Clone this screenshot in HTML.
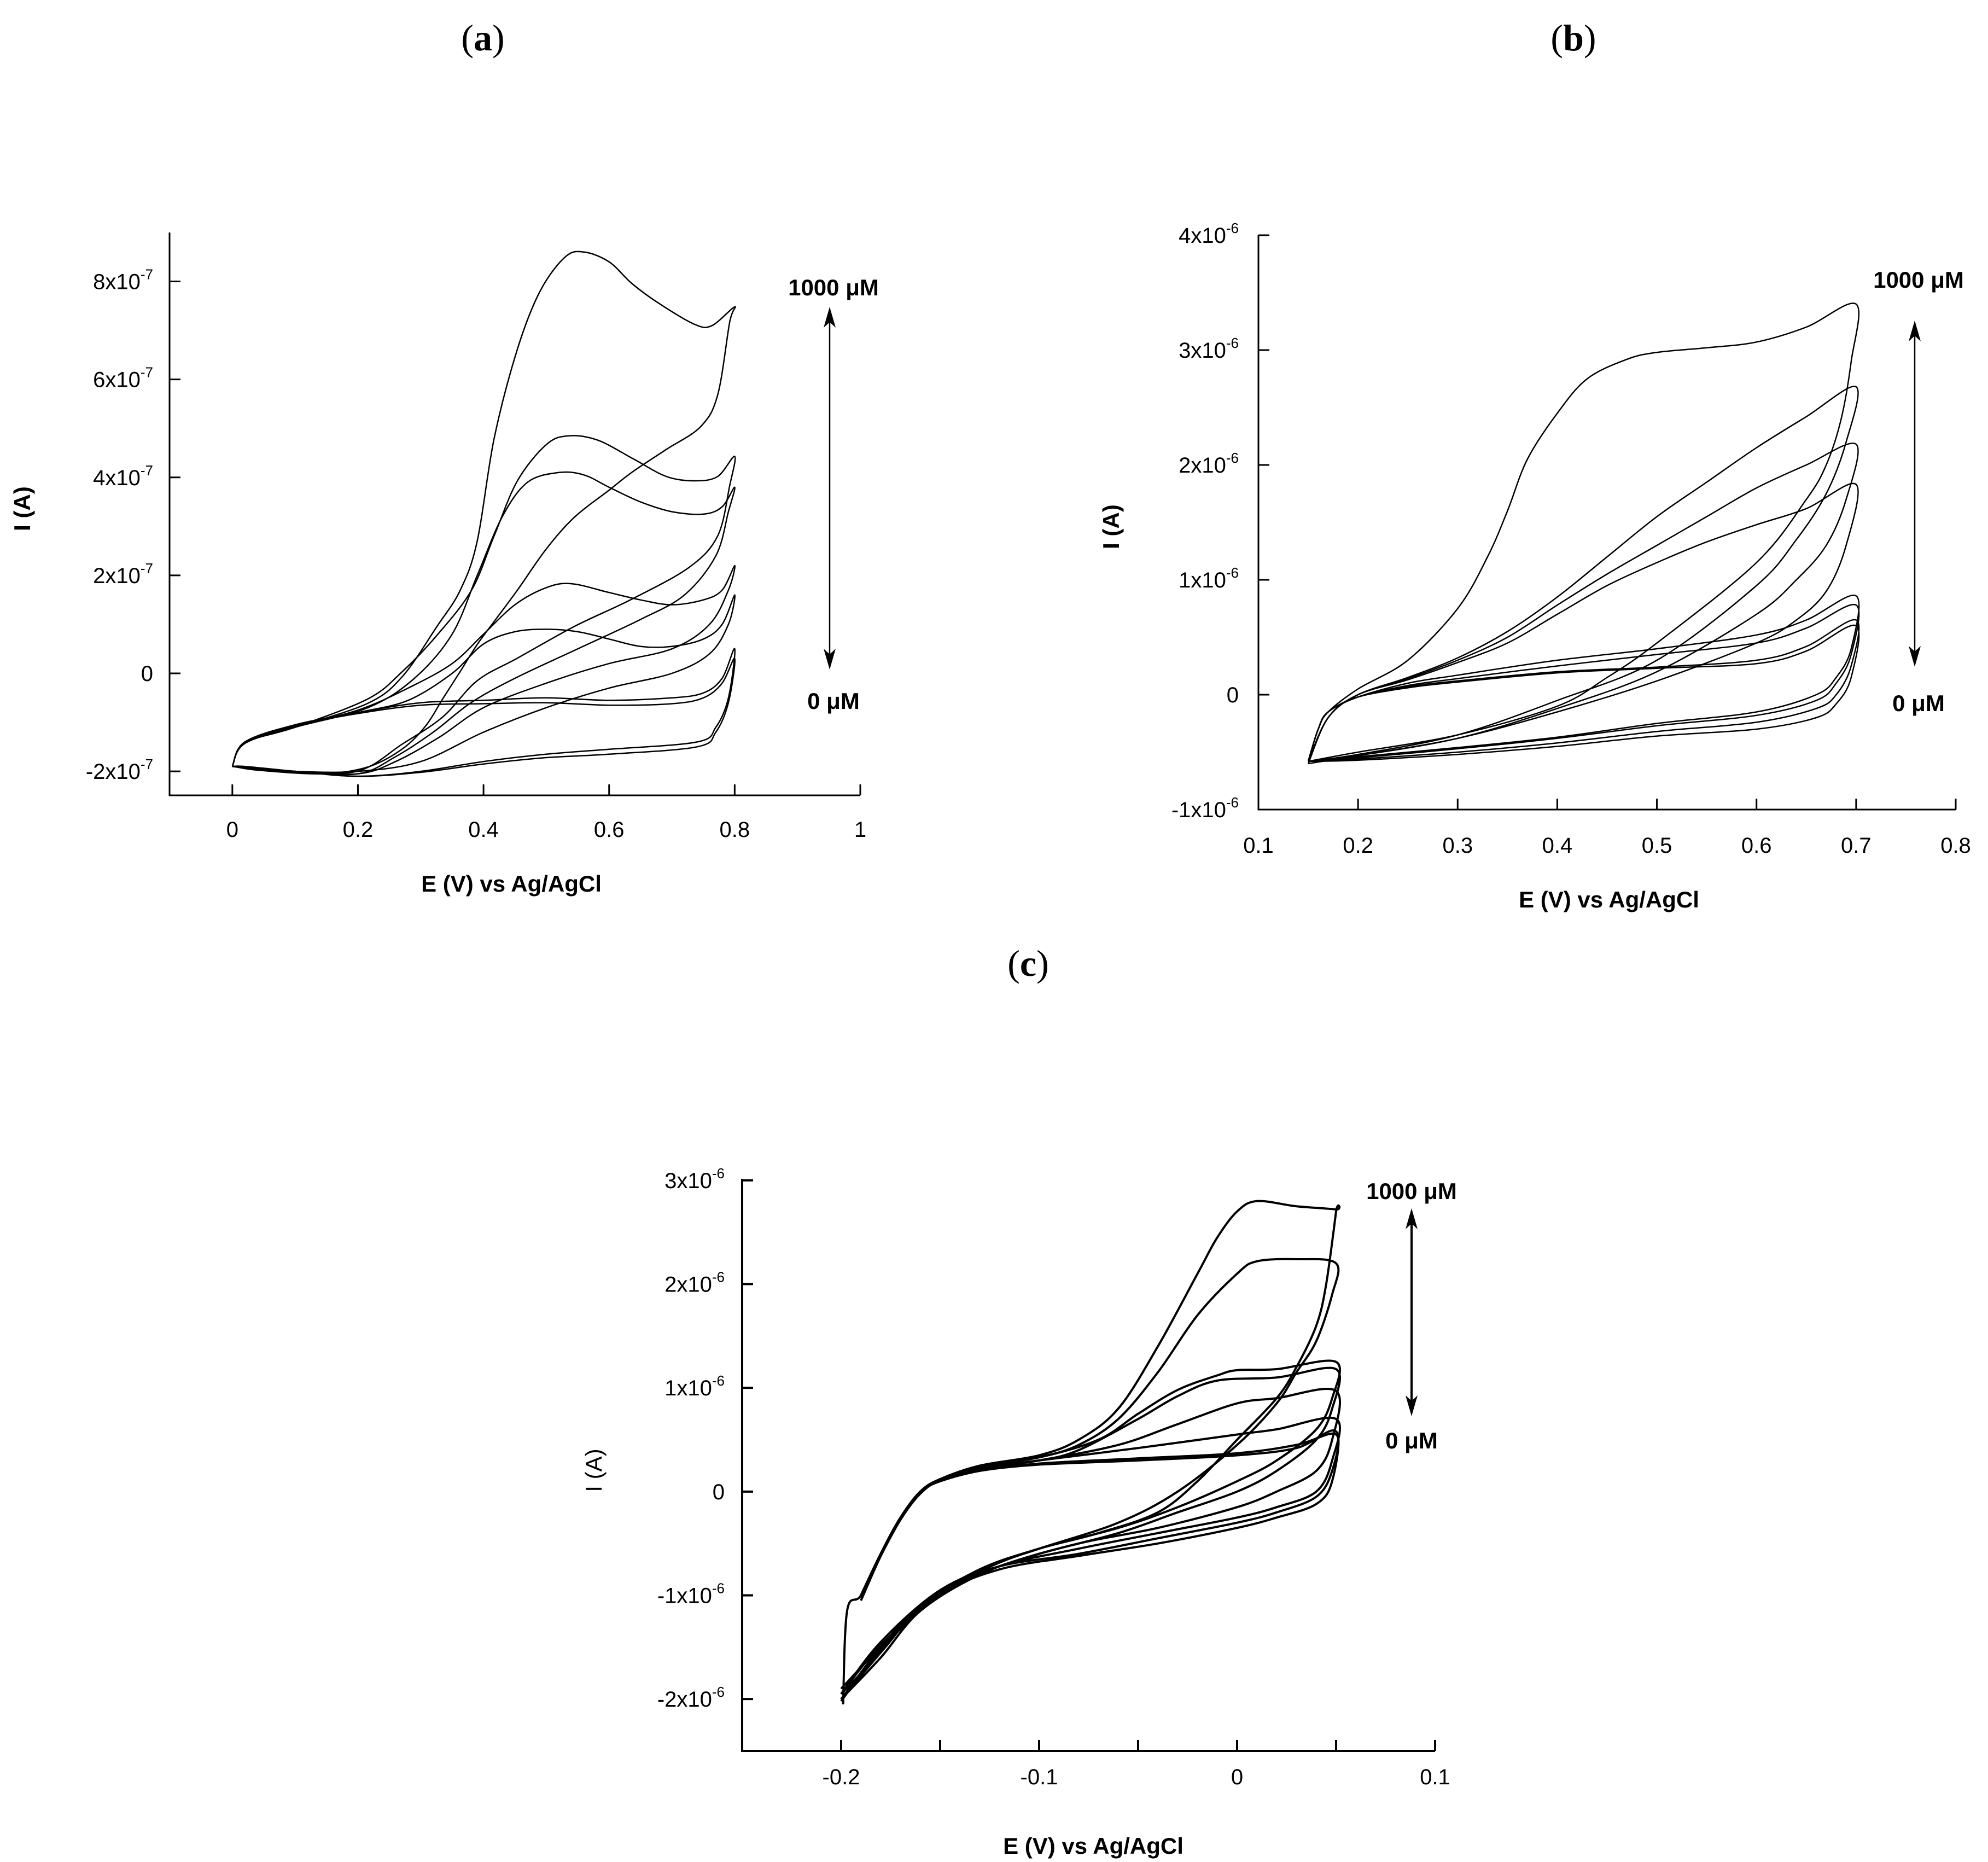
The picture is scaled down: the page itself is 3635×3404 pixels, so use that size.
<!DOCTYPE html>
<html><head><meta charset="utf-8"><style>
html,body{margin:0;padding:0;background:#fff}
svg{display:block}
text{font-family:"Liberation Sans Narrow","Liberation Sans",sans-serif;fill:#000}
.lab{font-family:"Liberation Serif",serif;font-size:68px}
</style></head><body>
<svg id="fig" width="3635" height="3404" viewBox="0 0 3635 3404" xmlns="http://www.w3.org/2000/svg">
<text class="lab" x="883" y="92" text-anchor="middle">(<tspan font-weight="bold">a</tspan>)</text>
<text class="lab" x="2877" y="92" text-anchor="middle">(<tspan font-weight="bold">b</tspan>)</text>
<text class="lab" x="1880" y="1784" text-anchor="middle">(<tspan font-weight="bold">c</tspan>)</text>
</svg>
<script>
// ---------- Panel (a) data ----------
const aXTicks=[0,0.2,0.4,0.6,0.8,1];
const aXLabels=["0","0.2","0.4","0.6","0.8","1"];
const aYTicks=[-2e-7,0,2e-7,4e-7,6e-7,8e-7];
const aYMant=["-2x10","0","2x10","4x10","6x10","8x10"];
const aYExp=["-7","","-7","-7","-7","-7"];
const aCurve1=[[0,-1.9e-7],[0.02,-1.4e-7],[0.1,-1.1e-7],[0.216,-0.61e-7],[0.271,-0.06e-7],[0.326,0.96e-7],[0.363,1.7e-7],[0.39,2.7e-7],[0.417,4.8e-7],[0.454,6.62e-7],[0.49,7.8e-7],[0.53,8.5e-7],[0.56,8.6e-7],[0.6,8.4e-7],[0.637,7.95e-7],[0.682,7.53e-7],[0.737,7.12e-7],[0.764,7.1e-7],[0.8,7.48e-7],[0.792,7.17e-7],[0.773,5.69e-7],[0.746,5.04e-7],[0.691,4.57e-7],[0.637,4.11e-7],[0.6,3.74e-7],[0.545,3.19e-7],[0.5,2.54e-7],[0.454,1.7e-7],[0.417,1.06e-7],[0.39,0.59e-7],[0.363,0.04e-7],[0.335,-0.52e-7],[0.308,-1.07e-7],[0.271,-1.54e-7],[0.216,-1.91e-7],[0.143,-2.05e-7],[0.043,-1.98e-7],[0.006,-1.91e-7],[0,-1.9e-7]];
const aCurve2=[[0,-1.9e-7],[0.02,-1.42e-7],[0.1,-1.1e-7],[0.216,-0.52e-7],[0.271,0.04e-7],[0.326,0.78e-7],[0.381,1.7e-7],[0.417,2.81e-7],[0.454,3.93e-7],[0.5,4.67e-7],[0.536,4.85e-7],[0.582,4.76e-7],[0.637,4.39e-7],[0.691,4.02e-7],[0.737,3.93e-7],[0.773,4.02e-7],[0.8,4.43e-7],[0.792,3.83e-7],[0.773,2.81e-7],[0.728,2.17e-7],[0.637,1.52e-7],[0.545,0.96e-7],[0.454,0.31e-7],[0.39,-0.15e-7],[0.335,-0.89e-7],[0.271,-1.44e-7],[0.198,-2.0e-7],[0.089,-2.0e-7],[0,-1.9e-7]];
const aCurve3=[[0,-1.9e-7],[0.02,-1.43e-7],[0.1,-1.1e-7],[0.216,-0.7e-7],[0.29,-0.1e-7],[0.35,0.8e-7],[0.39,2.0e-7],[0.43,3.2e-7],[0.47,3.9e-7],[0.52,4.1e-7],[0.56,4.05e-7],[0.6,3.8e-7],[0.65,3.5e-7],[0.7,3.3e-7],[0.75,3.25e-7],[0.78,3.4e-7],[0.8,3.8e-7],[0.79,3.3e-7],[0.77,2.4e-7],[0.72,1.6e-7],[0.65,1.1e-7],[0.55,0.5e-7],[0.45,-0.1e-7],[0.38,-0.6e-7],[0.32,-1.2e-7],[0.26,-1.7e-7],[0.2,-2.05e-7],[0.1,-2.0e-7],[0,-1.9e-7]];
const aCurve4=[[0,-1.9e-7],[0.02,-1.42e-7],[0.1,-1.08e-7],[0.2,-0.75e-7],[0.28,-0.3e-7],[0.35,0.2e-7],[0.4,0.8e-7],[0.45,1.4e-7],[0.5,1.75e-7],[0.54,1.83e-7],[0.6,1.65e-7],[0.65,1.5e-7],[0.7,1.4e-7],[0.75,1.5e-7],[0.78,1.7e-7],[0.8,2.2e-7],[0.79,1.7e-7],[0.76,1.0e-7],[0.7,0.5e-7],[0.6,0.2e-7],[0.5,-0.2e-7],[0.4,-0.7e-7],[0.33,-1.3e-7],[0.26,-1.8e-7],[0.2,-2.05e-7],[0.1,-2.0e-7],[0,-1.9e-7]];
const aCurve5=[[0,-1.9e-7],[0.02,-1.4e-7],[0.1,-1.07e-7],[0.2,-0.8e-7],[0.28,-0.55e-7],[0.35,0.0],[0.4,0.6e-7],[0.45,0.85e-7],[0.5,0.9e-7],[0.55,0.85e-7],[0.6,0.7e-7],[0.65,0.55e-7],[0.7,0.55e-7],[0.75,0.7e-7],[0.78,1.0e-7],[0.8,1.6e-7],[0.79,1.0e-7],[0.76,0.4e-7],[0.7,0.0],[0.6,-0.3e-7],[0.5,-0.7e-7],[0.4,-1.2e-7],[0.3,-1.8e-7],[0.2,-2.0e-7],[0.1,-2.0e-7],[0,-1.9e-7]];
const aCurve6=[[0,-1.9e-7],[0.02,-1.4e-7],[0.1,-1.05e-7],[0.2,-0.8e-7],[0.3,-0.6e-7],[0.4,-0.55e-7],[0.5,-0.5e-7],[0.6,-0.55e-7],[0.7,-0.5e-7],[0.75,-0.4e-7],[0.78,-0.1e-7],[0.8,0.5e-7],[0.79,-0.5e-7],[0.77,-1.1e-7],[0.74,-1.4e-7],[0.6,-1.55e-7],[0.5,-1.65e-7],[0.4,-1.8e-7],[0.3,-2.0e-7],[0.2,-2.1e-7],[0.1,-2.0e-7],[0.02,-1.9e-7],[0,-1.9e-7]];
const aCurve7=[[0,-1.9e-7],[0.02,-1.42e-7],[0.1,-1.07e-7],[0.2,-0.82e-7],[0.3,-0.65e-7],[0.4,-0.62e-7],[0.5,-0.6e-7],[0.6,-0.65e-7],[0.7,-0.62e-7],[0.75,-0.5e-7],[0.78,-0.2e-7],[0.8,0.3e-7],[0.79,-0.6e-7],[0.77,-1.2e-7],[0.74,-1.5e-7],[0.6,-1.65e-7],[0.5,-1.72e-7],[0.4,-1.85e-7],[0.3,-2.02e-7],[0.2,-2.1e-7],[0.1,-2.0e-7],[0.02,-1.9e-7],[0,-1.9e-7]];
const aCurves=[aCurve1,aCurve2,aCurve3,aCurve4,aCurve5,aCurve6,aCurve7];

// ---------- Panel (b) data ----------
const bXTicks=[0.1,0.2,0.3,0.4,0.5,0.6,0.7,0.8];
const bXLabels=["0.1","0.2","0.3","0.4","0.5","0.6","0.7","0.8"];
const bYTicks=[-1e-6,0,1e-6,2e-6,3e-6,4e-6];
const bYMant=["-1x10","0","1x10","2x10","3x10","4x10"];
const bYExp=["-6","","-6","-6","-6","-6"];
const bCurve1=[[0.15,-0.58e-6],[0.16,-0.3e-6],[0.17,-0.15e-6],[0.2,0.05e-6],[0.25,0.3e-6],[0.3,0.75e-6],[0.33,1.2e-6],[0.35,1.6e-6],[0.37,2.05e-6],[0.4,2.45e-6],[0.43,2.75e-6],[0.47,2.92e-6],[0.5,2.98e-6],[0.55,3.02e-6],[0.6,3.07e-6],[0.65,3.2e-6],[0.7,3.4e-6],[0.695,2.9e-6],[0.685,2.4e-6],[0.67,2.0e-6],[0.65,1.7e-6],[0.6,1.15e-6],[0.5,0.45e-6],[0.45,0.15e-6],[0.4,-0.1e-6],[0.3,-0.35e-6],[0.2,-0.5e-6],[0.15,-0.58e-6]];
const bCurve2=[[0.15,-0.58e-6],[0.17,-0.2e-6],[0.2,0.0],[0.25,0.15e-6],[0.3,0.32e-6],[0.35,0.55e-6],[0.4,0.85e-6],[0.45,1.2e-6],[0.5,1.55e-6],[0.55,1.85e-6],[0.6,2.15e-6],[0.65,2.42e-6],[0.7,2.68e-6],[0.69,2.2e-6],[0.67,1.75e-6],[0.64,1.35e-6],[0.6,0.95e-6],[0.5,0.3e-6],[0.4,-0.05e-6],[0.3,-0.35e-6],[0.2,-0.52e-6],[0.15,-0.58e-6]];
const bCurve3=[[0.15,-0.58e-6],[0.17,-0.2e-6],[0.2,0.0],[0.25,0.14e-6],[0.3,0.3e-6],[0.35,0.5e-6],[0.4,0.78e-6],[0.45,1.05e-6],[0.5,1.3e-6],[0.55,1.55e-6],[0.6,1.8e-6],[0.65,2.0e-6],[0.7,2.18e-6],[0.69,1.7e-6],[0.67,1.3e-6],[0.64,1.0e-6],[0.6,0.7e-6],[0.5,0.2e-6],[0.4,-0.12e-6],[0.3,-0.38e-6],[0.2,-0.53e-6],[0.15,-0.58e-6]];
const bCurve4=[[0.15,-0.6e-6],[0.17,-0.2e-6],[0.2,0.0],[0.25,0.13e-6],[0.3,0.28e-6],[0.35,0.45e-6],[0.4,0.7e-6],[0.45,0.95e-6],[0.5,1.15e-6],[0.55,1.33e-6],[0.6,1.48e-6],[0.65,1.62e-6],[0.7,1.83e-6],[0.69,1.3e-6],[0.67,0.9e-6],[0.64,0.65e-6],[0.6,0.45e-6],[0.5,0.12e-6],[0.4,-0.15e-6],[0.3,-0.38e-6],[0.2,-0.53e-6],[0.15,-0.6e-6]];
const bCurve5=[[0.15,-0.58e-6],[0.16,-0.3e-6],[0.17,-0.15e-6],[0.2,-0.02e-6],[0.25,0.1e-6],[0.3,0.17e-6],[0.4,0.3e-6],[0.5,0.4e-6],[0.6,0.52e-6],[0.65,0.65e-6],[0.7,0.86e-6],[0.695,0.4e-6],[0.68,0.15e-6],[0.66,0.0],[0.6,-0.15e-6],[0.5,-0.25e-6],[0.4,-0.37e-6],[0.3,-0.46e-6],[0.2,-0.54e-6],[0.15,-0.58e-6]];
const bCurve6=[[0.15,-0.58e-6],[0.16,-0.3e-6],[0.17,-0.15e-6],[0.2,-0.02e-6],[0.25,0.08e-6],[0.3,0.14e-6],[0.4,0.25e-6],[0.5,0.35e-6],[0.6,0.45e-6],[0.65,0.58e-6],[0.7,0.78e-6],[0.695,0.35e-6],[0.68,0.1e-6],[0.66,-0.05e-6],[0.6,-0.18e-6],[0.5,-0.27e-6],[0.4,-0.38e-6],[0.3,-0.47e-6],[0.2,-0.55e-6],[0.15,-0.58e-6]];
const bCurve7=[[0.15,-0.58e-6],[0.16,-0.3e-6],[0.17,-0.15e-6],[0.2,-0.02e-6],[0.25,0.07e-6],[0.3,0.12e-6],[0.4,0.2e-6],[0.5,0.24e-6],[0.6,0.3e-6],[0.65,0.42e-6],[0.7,0.65e-6],[0.695,0.25e-6],[0.68,0.0],[0.66,-0.12e-6],[0.6,-0.24e-6],[0.5,-0.32e-6],[0.4,-0.42e-6],[0.3,-0.5e-6],[0.2,-0.56e-6],[0.15,-0.58e-6]];
const bCurve8=[[0.15,-0.58e-6],[0.16,-0.3e-6],[0.17,-0.15e-6],[0.2,-0.02e-6],[0.25,0.06e-6],[0.3,0.11e-6],[0.4,0.19e-6],[0.5,0.23e-6],[0.6,0.27e-6],[0.65,0.38e-6],[0.7,0.6e-6],[0.695,0.15e-6],[0.68,-0.08e-6],[0.66,-0.2e-6],[0.6,-0.3e-6],[0.5,-0.36e-6],[0.4,-0.45e-6],[0.3,-0.52e-6],[0.2,-0.57e-6],[0.15,-0.58e-6]];
const bCurves=[bCurve1,bCurve2,bCurve3,bCurve4,bCurve5,bCurve6,bCurve7,bCurve8];

// ---------- Panel (c) data ----------
const cXTicks=[-0.25,-0.2,-0.15,-0.1,-0.05,0,0.05,0.1];
const cXLabels=["","-0.2","","-0.1","","0","","0.1"];
const cYTicks=[-2e-6,-1e-6,0,1e-6,2e-6,3e-6];
const cYMant=["-2x10","-1x10","0","1x10","2x10","3x10"];
const cYExp=["-6","-6","","-6","-6","-6"];
const cCurve1=[[-0.199,-2.05e-6],[-0.197,-1.15e-6],[-0.19,-1.0e-6],[-0.18,-0.6e-6],[-0.17,-0.25e-6],[-0.16,0.0],[-0.15,0.12e-6],[-0.13,0.25e-6],[-0.1,0.35e-6],[-0.08,0.5e-6],[-0.06,0.8e-6],[-0.04,1.4e-6],[-0.02,2.1e-6],[-0.01,2.45e-6],[0.0,2.7e-6],[0.01,2.8e-6],[0.03,2.75e-6],[0.05,2.72e-6],[0.05,2.7e-6],[0.045,2.0e-6],[0.04,1.6e-6],[0.03,1.2e-6],[0.02,0.9e-6],[0.0,0.5e-6],[-0.02,0.1e-6],[-0.04,-0.2e-6],[-0.07,-0.4e-6],[-0.1,-0.55e-6],[-0.13,-0.75e-6],[-0.16,-1.1e-6],[-0.18,-1.5e-6],[-0.2,-2.0e-6]];
const cCurve2=[[-0.19,-1.05e-6],[-0.18,-0.62e-6],[-0.17,-0.27e-6],[-0.16,-0.02e-6],[-0.15,0.11e-6],[-0.13,0.24e-6],[-0.1,0.33e-6],[-0.08,0.45e-6],[-0.06,0.7e-6],[-0.04,1.15e-6],[-0.02,1.7e-6],[0.0,2.1e-6],[0.01,2.22e-6],[0.03,2.24e-6],[0.05,2.2e-6],[0.048,1.9e-6],[0.04,1.45e-6],[0.03,1.15e-6],[0.02,0.85e-6],[0.0,0.45e-6],[-0.03,0.0],[-0.06,-0.3e-6],[-0.1,-0.55e-6],[-0.13,-0.75e-6],[-0.16,-1.1e-6],[-0.18,-1.55e-6],[-0.2,-2.0e-6]];
const cCurve3=[[-0.19,-1.0e-6],[-0.18,-0.6e-6],[-0.17,-0.25e-6],[-0.16,0.0],[-0.15,0.12e-6],[-0.13,0.24e-6],[-0.1,0.33e-6],[-0.07,0.5e-6],[-0.05,0.75e-6],[-0.03,0.98e-6],[-0.01,1.12e-6],[0.0,1.17e-6],[0.02,1.18e-6],[0.05,1.25e-6],[0.048,0.9e-6],[0.04,0.6e-6],[0.02,0.3e-6],[0.0,0.1e-6],[-0.03,-0.15e-6],[-0.06,-0.35e-6],[-0.1,-0.55e-6],[-0.13,-0.77e-6],[-0.16,-1.12e-6],[-0.18,-1.55e-6],[-0.2,-1.95e-6]];
const cCurve4=[[-0.19,-1.05e-6],[-0.18,-0.62e-6],[-0.17,-0.26e-6],[-0.16,0.0],[-0.15,0.11e-6],[-0.13,0.23e-6],[-0.1,0.3e-6],[-0.08,0.4e-6],[-0.05,0.7e-6],[-0.03,0.92e-6],[-0.01,1.07e-6],[0.02,1.1e-6],[0.05,1.18e-6],[0.048,0.8e-6],[0.04,0.5e-6],[0.02,0.2e-6],[0.0,0.0],[-0.03,-0.2e-6],[-0.06,-0.4e-6],[-0.1,-0.6e-6],[-0.13,-0.8e-6],[-0.16,-1.15e-6],[-0.18,-1.6e-6],[-0.2,-2.0e-6]];
const cCurve5=[[-0.19,-1.0e-6],[-0.18,-0.6e-6],[-0.17,-0.25e-6],[-0.16,0.0],[-0.15,0.11e-6],[-0.13,0.22e-6],[-0.1,0.3e-6],[-0.06,0.45e-6],[-0.03,0.65e-6],[0.0,0.85e-6],[0.02,0.9e-6],[0.05,0.97e-6],[0.048,0.5e-6],[0.04,0.2e-6],[0.02,0.0],[0.0,-0.15e-6],[-0.04,-0.35e-6],[-0.08,-0.5e-6],[-0.12,-0.72e-6],[-0.15,-0.98e-6],[-0.18,-1.5e-6],[-0.2,-1.9e-6]];
const cCurve6=[[-0.19,-1.0e-6],[-0.18,-0.6e-6],[-0.17,-0.25e-6],[-0.16,0.0],[-0.15,0.11e-6],[-0.13,0.22e-6],[-0.1,0.3e-6],[-0.05,0.42e-6],[0.0,0.55e-6],[0.02,0.6e-6],[0.05,0.7e-6],[0.048,0.3e-6],[0.04,0.0],[0.02,-0.15e-6],[0.0,-0.25e-6],[-0.04,-0.4e-6],[-0.08,-0.55e-6],[-0.12,-0.72e-6],[-0.15,-0.98e-6],[-0.18,-1.48e-6],[-0.2,-1.95e-6]];
const cCurve7=[[-0.19,-1.0e-6],[-0.18,-0.6e-6],[-0.17,-0.25e-6],[-0.16,0.0],[-0.15,0.1e-6],[-0.13,0.2e-6],[-0.1,0.27e-6],[-0.05,0.32e-6],[0.0,0.37e-6],[0.03,0.45e-6],[0.05,0.55e-6],[0.048,0.2e-6],[0.04,-0.05e-6],[0.02,-0.2e-6],[0.0,-0.3e-6],[-0.04,-0.45e-6],[-0.08,-0.6e-6],[-0.12,-0.72e-6],[-0.15,-0.95e-6],[-0.18,-1.45e-6],[-0.2,-1.95e-6]];
const cCurve8=[[-0.19,-1.02e-6],[-0.18,-0.62e-6],[-0.17,-0.27e-6],[-0.16,-0.01e-6],[-0.15,0.1e-6],[-0.13,0.2e-6],[-0.1,0.26e-6],[-0.05,0.3e-6],[0.0,0.35e-6],[0.03,0.42e-6],[0.05,0.58e-6],[0.048,0.1e-6],[0.04,-0.12e-6],[0.02,-0.25e-6],[0.0,-0.35e-6],[-0.04,-0.5e-6],[-0.08,-0.62e-6],[-0.12,-0.75e-6],[-0.15,-1.0e-6],[-0.18,-1.52e-6],[-0.2,-2.02e-6]];
const cCurves=[cCurve1,cCurve2,cCurve3,cCurve4,cCurve5,cCurve6,cCurve7,cCurve8];

const NS="http://www.w3.org/2000/svg";
const fig=document.getElementById('fig');
function mk(tag,attrs,parent){const e=document.createElementNS(NS,tag);for(const k in attrs)e.setAttribute(k,attrs[k]);(parent||fig).appendChild(e);return e;}

function drawPanel(p){
  const g=mk('g',{});
  
  
  const sx=v=>p.px0+(v-p.xmin)/(p.xmax-p.xmin)*(p.px1-p.px0);
  const sy=v=>p.py1-(v-p.ymin)/(p.ymax-p.ymin)*(p.py1-p.py0);
  const axis=mk('path',{d:`M${p.px0} ${p.py0} V${p.py1} H${p.px1}`,stroke:'#000','stroke-width':p.aw,fill:'none'},g);
  
  
  p.xt.forEach((v,i)=>{
    const x=sx(v);
    const t=mk('line',{x1:x,x2:x,y1:p.py1,y2:p.py1-20,stroke:'#000','stroke-width':p.aw},g);
    
    
    if(p.xl[i]!==""){
      const tx=mk('text',{x:x,y:p.xly,'text-anchor':'middle','font-size':40},g);
      tx.textContent=p.xl[i];
      
      
    }
  });
  p.yt.forEach((v,i)=>{
    const y=sy(v);
    const t=mk('line',{x1:p.px0,x2:p.px0+20,y1:y,y2:y,stroke:'#000','stroke-width':p.aw},g);
    
    
    const tx=mk('text',{x:p.ylx,y:y+14,'text-anchor':'end','font-size':40},g);
    
    
    if(p.ye[i]===""){tx.textContent=p.ym[i];}
    else{
      const a=mk('tspan',{},tx);a.textContent=p.ym[i];
      const b=mk('tspan',{dy:-18,'font-size':26},tx);b.textContent=p.ye[i];
    }
  });
  p.curves.forEach((c,ci)=>{
    const pts=c.map(q=>[sx(q[0]),sy(q[1])]);
    let d=`M${pts[0][0].toFixed(1)} ${pts[0][1].toFixed(1)}`;
    for(let i=0;i<pts.length-1;i++){
      const p0=pts[Math.max(0,i-1)],p1=pts[i],p2=pts[i+1],p3=pts[Math.min(pts.length-1,i+2)];
      const c1=[p1[0]+(p2[0]-p0[0])/6,p1[1]+(p2[1]-p0[1])/6];
      const c2=[p2[0]-(p3[0]-p1[0])/6,p2[1]-(p3[1]-p1[1])/6];
      d+=` C${c1[0].toFixed(1)} ${c1[1].toFixed(1)} ${c2[0].toFixed(1)} ${c2[1].toFixed(1)} ${p2[0].toFixed(1)} ${p2[1].toFixed(1)}`;
    }
    const e=mk('path',{d:d,stroke:'#000','stroke-width':p.sw,fill:'none','stroke-linejoin':'round'},g);
    
    
  });
  const xt=mk('text',{x:p.xtx,y:p.xty,'text-anchor':'middle','font-size':42,'font-weight':'bold','font-family':'Liberation Sans, sans-serif'},g);
  xt.textContent='E (V) vs Ag/AgCl';
  
  
  const yt=mk('text',{x:p.ytx,y:p.yty,'text-anchor':'middle','font-size':42,'font-weight':p.ybold?'bold':'normal','font-family':'Liberation Sans, sans-serif',transform:`rotate(-90 ${p.ytx} ${p.yty})`},g);
  yt.textContent='I (A)';
  
  
  const hi=mk('text',{x:p.ax,y:p.hiY,'text-anchor':'middle','font-size':42,'font-weight':'bold','font-family':p.serif?'Liberation Serif, serif':'Liberation Sans, sans-serif'},g);
  hi.textContent='1000 μM';
  
  
  const lo=mk('text',{x:p.ax,y:p.loY,'text-anchor':'middle','font-size':42,'font-weight':'bold','font-family':p.serif?'Liberation Serif, serif':'Liberation Sans, sans-serif'},g);
  lo.textContent='0 μM';
  
  
  const ar=mk('g',{},g);
  
  
  const x=p.arX;
  mk('line',{x1:x,x2:x,y1:p.arY0+25,y2:p.arY1-25,stroke:'#000','stroke-width':p.sw},ar);
  mk('path',{d:`M${x} ${p.arY0} L${x-11} ${p.arY0+38} L${x} ${p.arY0+28} L${x+11} ${p.arY0+38}Z`,fill:'#000'},ar);
  mk('path',{d:`M${x} ${p.arY1} L${x-11} ${p.arY1-38} L${x} ${p.arY1-28} L${x+11} ${p.arY1-38}Z`,fill:'#000'},ar);
}

drawPanel({name:'panel-a-chart',px0:310,px1:1573,py0:425,py1:1454,xmin:-0.1,xmax:1.0,ymin:-2.49e-7,ymax:9.0e-7,
  xt:aXTicks,xl:aXLabels,yt:aYTicks,ym:aYMant,ye:aYExp,curves:aCurves,sw:2.5,aw:3,
  xly:1530,ylx:280,xtx:935,xty:1630,ytx:55,yty:930,ybold:true,ax:1524,hiY:540,loY:1296,serif:true,arX:1517,arY0:561,arY1:1224});
drawPanel({name:'panel-b-chart',px0:2301,px1:3576,py0:430,py1:1480,xmin:0.1,xmax:0.8,ymin:-1e-6,ymax:4e-6,
  xt:bXTicks,xl:bXLabels,yt:bYTicks,ym:bYMant,ye:bYExp,curves:bCurves,sw:2.5,aw:3,
  xly:1559,ylx:2265,xtx:2942,xty:1659,ytx:2046,yty:963,ybold:true,ax:3508,hiY:526,loY:1300,serif:false,arX:3501,arY0:586,arY1:1219});
drawPanel({name:'panel-c-chart',px0:1357,px1:2624,py0:2155,py1:3201,xmin:-0.25,xmax:0.1,ymin:-2.5e-6,ymax:3.015e-6,
  xt:cXTicks,xl:cXLabels,yt:cYTicks,ym:cYMant,ye:cYExp,curves:cCurves,sw:4,aw:4,
  xly:3262,ylx:1325,xtx:1999,xty:3389,ytx:1100,yty:2688,ybold:false,ax:2581,hiY:2192,loY:2648,serif:false,arX:2581,arY0:2209,arY1:2589});
</script>
</body></html>
